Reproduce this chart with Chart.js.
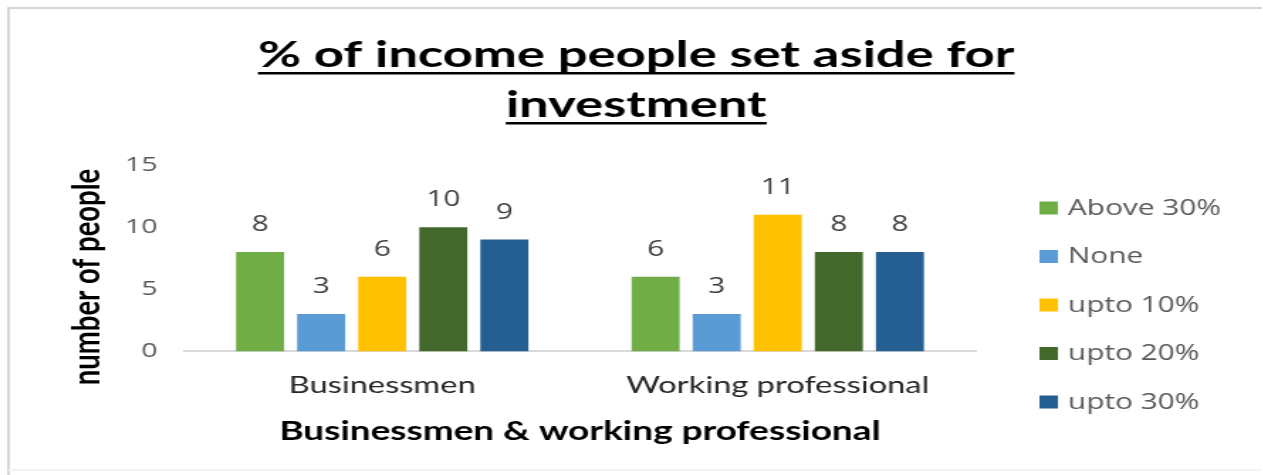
<!DOCTYPE html>
<html>
<head>
<meta charset="utf-8">
<script src="https://cdn.jsdelivr.net/npm/chart.js@4"></script>
<style>
  html, body { margin: 0; padding: 0; background: #fff; overflow: hidden; }
  /* the chart is laid out narrow and stretched sideways as a whole */
  #wrap { width: 889px; height: 475px; transform: scaleX(1.42); transform-origin: 0 0; }
</style>
</head>
<body>
<div id="wrap"><canvas id="income_chart"></canvas></div>
<script>
// ── data ────────────────────────────────────────────────
const categories   = ["Businessmen", "Working professional"];
const seriesLabels = ["Above 30%", "None", "upto 10%", "upto 20%", "upto 30%"];
const aboveThirty  = [8, 6];
const noneSet      = [3, 3];
const uptoTen      = [6, 11];
const uptoTwenty   = [10, 8];
const uptoThirty   = [9, 8];
const yTicks       = [0, 5, 10, 15];
const titleLines   = ["% of income people set aside for", "investment"];
const yTitle       = "number of people";
const xTitle       = "Businessmen & working professional";

const seriesColors = ["#70AD47", "#5B9BD5", "#FFC000", "#43682B", "#255E91"];
const seriesValues = [aboveThirty, noneSet, uptoTen, uptoTwenty, uptoThirty];

const TEXT_GRAY = "#595959";

// ── plugins ─────────────────────────────────────────────
// light frame round the whole picture
const framePlugin = {
  id: "frame",
  beforeDraw(chart) {
    const c = chart.ctx;
    c.save();
    c.fillStyle = "#fff";
    c.fillRect(0, 0, chart.width, chart.height);
    c.strokeStyle = "#d6d6d6";
    c.lineWidth = 2;
    c.beginPath();
    c.moveTo(6, chart.height);
    c.lineTo(6, 8);
    c.lineTo(chart.width, 8);
    c.stroke();
    c.strokeStyle = "#f3f3f3";
    c.beginPath();
    c.moveTo(6, 470);
    c.lineTo(chart.width, 470);
    c.stroke();
    c.restore();
  },
};

// bold underlined title (two lines) and the rotated y title
const titlePlugin = {
  id: "underlinedTitle",
  afterDraw(chart) {
    const c = chart.ctx;
    const cx = 448;
    const baselines = [67, 117];
    c.save();
    c.font = "bold 37px Lato";
    c.fillStyle = "#000";
    c.textAlign = "center";
    c.textBaseline = "alphabetic";
    titleLines.forEach((line, i) => {
      const w = c.measureText(line).width;
      c.fillText(line, cx, baselines[i]);
      c.fillRect(cx - w / 2, baselines[i] + 5, w, 2.5);
    });

    c.translate(61, 277);
    c.rotate(-Math.PI / 2);
    c.font = "bold 27.5px Lato";
    c.textBaseline = "middle";
    c.fillText(yTitle, 0, 0);
    c.restore();
  },
};

// value above each bar
const valueLabels = {
  id: "valueLabels",
  afterDatasetsDraw(chart) {
    const c = chart.ctx;
    c.save();
    c.font = "21px 'Open Sans'";
    c.fillStyle = "#404040";
    c.textAlign = "center";
    c.textBaseline = "middle";
    chart.data.datasets.forEach((ds, di) => {
      chart.getDatasetMeta(di).data.forEach((bar, i) => {
        c.fillText(String(ds.data[i]), bar.x, bar.y - 27);
      });
    });
    c.restore();
  },
};

// legend column on the right
const sideLegend = {
  id: "sideLegend",
  afterDraw(chart) {
    const c = chart.ctx;
    c.save();
    c.font = "21px 'Open Sans'";
    c.textBaseline = "middle";
    chart.data.datasets.forEach((ds, i) => {
      const y = 208 + i * 48.5;
      c.fillStyle = ds.backgroundColor;
      c.fillRect(732, y - 6.5, 13, 13);
      c.fillStyle = TEXT_GRAY;
      c.fillText(ds.label, 752, y + 1);
    });
    c.restore();
  },
};

// ── chart ───────────────────────────────────────────────
const datasets = seriesLabels.map((label, i) => ({
  label,
  data: seriesValues[i],
  backgroundColor: seriesColors[i],
  borderWidth: 0,
  categoryPercentage: 0.772,
  barPercentage: 0.786,
}));

new Chart(document.getElementById("income_chart"), {
  type: "bar",
  data: { labels: categories, datasets },
  options: {
    responsive: true,
    maintainAspectRatio: false,
    animation: false,
    layout: { padding: { top: 165, left: 69, right: 202, bottom: 20 } },
    plugins: {
      legend: { display: false },
      title: { display: false },
      tooltip: { enabled: false },
    },
    scales: {
      x: {
        grid: { display: false, drawTicks: false },
        border: { display: true, color: "#d9d9d9", width: 2 },
        ticks: { color: "#262626", padding: 20, font: { family: "Lato", size: 23 } },
        title: {
          display: true,
          text: xTitle,
          color: "#000",
          font: { family: "Lato", size: 26, weight: "bold", lineHeight: 1 },
          padding: { top: 0, bottom: 10 },
        },
      },
      y: {
        min: yTicks[0],
        max: yTicks[yTicks.length - 1],
        afterBuildTicks: (scale) => { scale.ticks = yTicks.map((v) => ({ value: v })); },
        grid: { display: false, drawTicks: false },
        border: { display: false },
        ticks: { color: TEXT_GRAY, padding: 19, font: { family: "Open Sans", size: 20 } },
      },
    },
  },
  plugins: [framePlugin, valueLabels, titlePlugin, sideLegend],
});
</script>
</body>
</html>
